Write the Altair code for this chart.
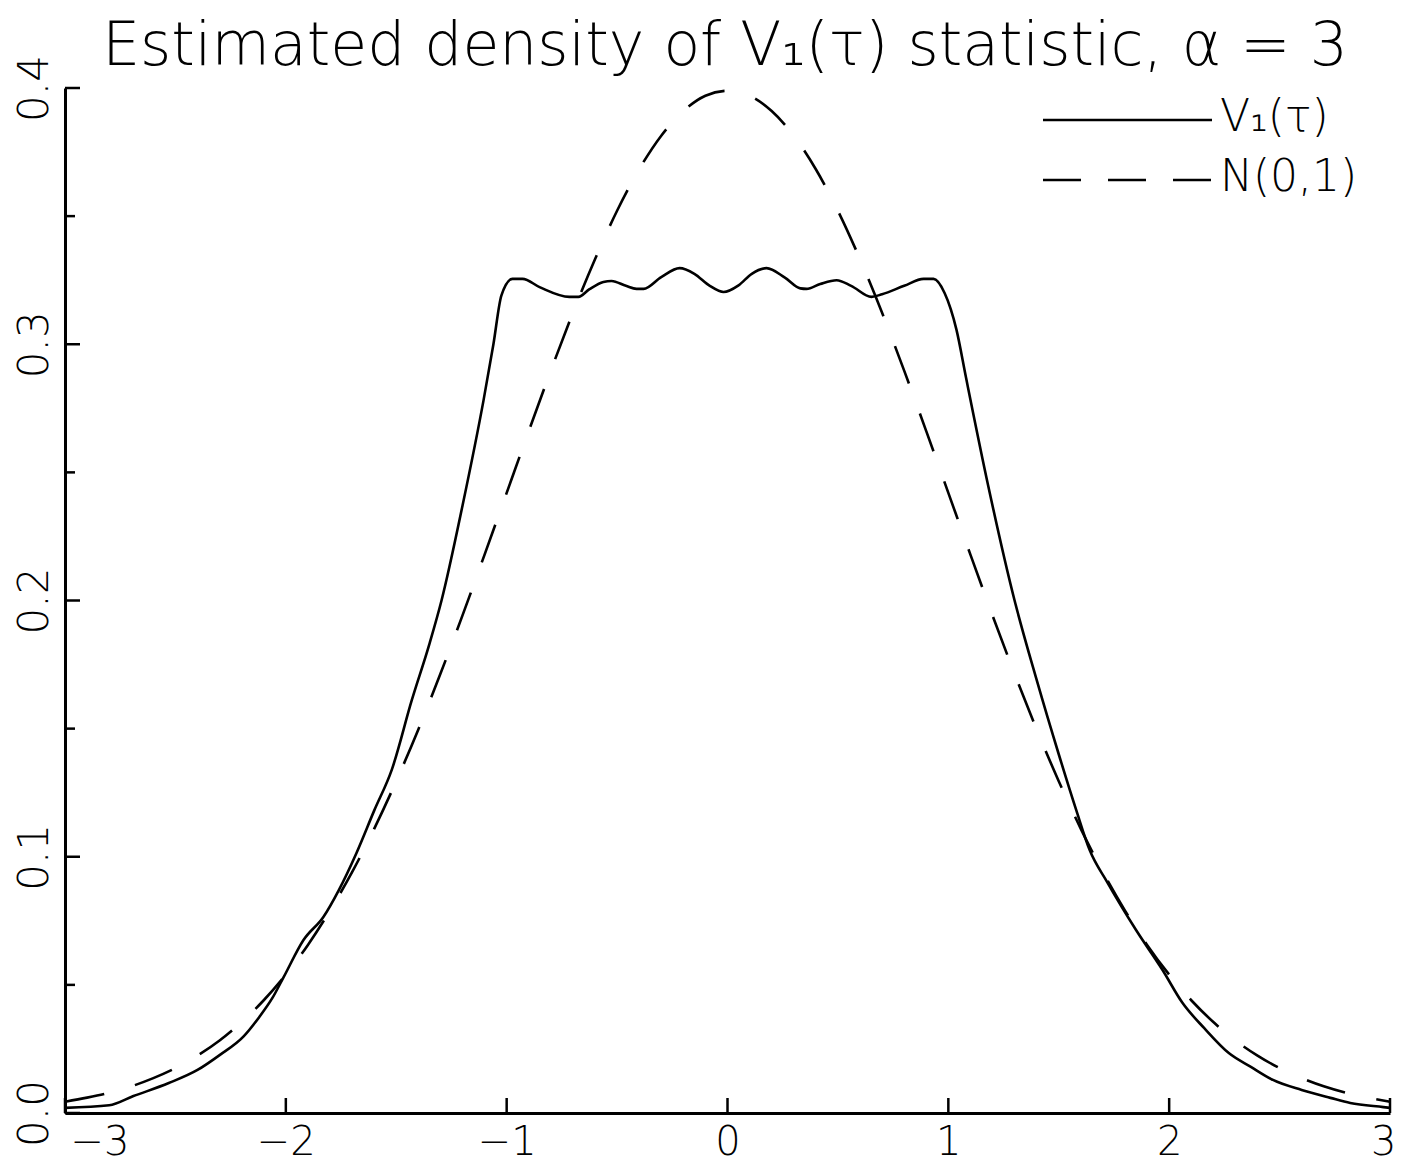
import altair as alt
import pandas as pd

# ---- data ----
solid_x = [-3.00, -2.80, -2.69, -2.53, -2.40, -2.30, -2.19, -2.12, -2.06, -2.01,
           -1.92, -1.83, -1.76, -1.68, -1.60, -1.52, -1.43, -1.35, -1.295, -1.20,
           -1.105, -1.06, -1.024, -0.974, -0.928, -0.851, -0.716, -0.675, -0.625, -0.562,
           -0.525, -0.46, -0.412, -0.38, -0.30, -0.217, -0.15, -0.08, -0.018, 0.05,
           0.11, 0.177, 0.26, 0.33, 0.358, 0.42, 0.494, 0.56, 0.652, 0.70,
           0.80, 0.888, 0.933, 0.983, 1.037, 1.08, 1.18, 1.30, 1.40, 1.50,
           1.58, 1.64, 1.72, 1.85, 1.97, 2.06, 2.16, 2.27, 2.37, 2.47,
           2.60, 2.73, 2.82, 2.97, 3.00]
solid_y = [0.0020, 0.0030, 0.0066, 0.0117, 0.0168, 0.0226, 0.0300, 0.0375, 0.0450, 0.0530,
           0.0675, 0.0765, 0.0870, 0.1015, 0.1180, 0.1340, 0.1610, 0.1830, 0.2000, 0.2370,
           0.2780, 0.3000, 0.3190, 0.3255, 0.3255, 0.3223, 0.3185, 0.3185, 0.3215, 0.3243,
           0.3247, 0.3228, 0.3216, 0.3216, 0.3262, 0.3297, 0.3275, 0.3228, 0.3204, 0.3230,
           0.3275, 0.3297, 0.3260, 0.3218, 0.3216, 0.3235, 0.3250, 0.3228, 0.3185, 0.3195,
           0.3228, 0.3255, 0.3255, 0.3200, 0.3056, 0.2870, 0.2450, 0.2000, 0.1690, 0.1400,
           0.1180, 0.1026, 0.0900, 0.0714, 0.0558, 0.0430, 0.0330, 0.0234, 0.0180, 0.0129,
           0.0090, 0.0059, 0.0039, 0.0023, 0.0020]

normal_x = [-3.0, -2.9, -2.8, -2.7, -2.6, -2.5, -2.4, -2.3, -2.2, -2.1,
            -2.0, -1.9, -1.8, -1.7, -1.6, -1.5, -1.4, -1.3, -1.2, -1.1,
            -1.0, -0.9, -0.8, -0.7, -0.6, -0.5, -0.4, -0.3, -0.2, -0.1,
            0.0, 0.1, 0.2, 0.3, 0.4, 0.5, 0.6, 0.7, 0.8, 0.9,
            1.0, 1.1, 1.2, 1.3, 1.4, 1.5, 1.6, 1.7, 1.8, 1.9,
            2.0, 2.1, 2.2, 2.3, 2.4, 2.5, 2.6, 2.7, 2.8, 2.9, 3.0]
normal_y = [0.0044, 0.0060, 0.0079, 0.0104, 0.0136, 0.0175, 0.0224, 0.0283, 0.0355, 0.0440,
            0.0540, 0.0656, 0.0790, 0.0940, 0.1109, 0.1295, 0.1497, 0.1714, 0.1942, 0.2179,
            0.2420, 0.2661, 0.2897, 0.3123, 0.3332, 0.3521, 0.3683, 0.3814, 0.3910, 0.3970,
            0.3989, 0.3970, 0.3910, 0.3814, 0.3683, 0.3521, 0.3332, 0.3123, 0.2897, 0.2661,
            0.2420, 0.2179, 0.1942, 0.1714, 0.1497, 0.1295, 0.1109, 0.0940, 0.0790, 0.0656,
            0.0540, 0.0440, 0.0355, 0.0283, 0.0224, 0.0175, 0.0136, 0.0104, 0.0079, 0.0060, 0.0044]

x_major = [-3, -2, -1, 0, 1, 2, 3]
y_major = [0.0, 0.1, 0.2, 0.3, 0.4]
y_minor = [0.05, 0.15, 0.25, 0.35]

title_text = "Estimated density of V\u2081(\u03c4) statistic, \u03b1 = 3"
legend_labels = ["V\u2081(\u03c4)", "N(0,1)"]

# ---- layout ----
W, H = 1325, 1025
FONT = "DejaVu Sans"

df_solid = pd.DataFrame({"x": solid_x, "y": solid_y})
df_norm = pd.DataFrame({"x": normal_x, "y": normal_y})

xscale = alt.Scale(domain=[-3, 3], nice=False, zero=False)
yscale = alt.Scale(domain=[0, 0.4], nice=False, zero=False)

x_axis = alt.Axis(values=x_major, format="d", ticks=False, grid=False,
                  domainWidth=3, domainColor="black", labelColor="black",
                  labelFont=FONT, labelFontSize=40, labelFontWeight=300, labelPadding=9,
                  labelFlush=False, labelOverlap=False, labelBound=False,
                  labelAlign={"condition": [{"test": "datum.value == -3", "value": "left"},
                                            {"test": "datum.value == 3", "value": "right"}],
                              "value": "center"},
                  labelOffset={"condition": [{"test": "datum.value == -3", "value": 5},
                                             {"test": "datum.value == 3", "value": 6}],
                               "value": 0},
                  title=None)
y_axis = alt.Axis(values=y_major, format=".1f", ticks=False, grid=False,
                  domainWidth=3, domainColor="black", labelColor="black",
                  labelFont=FONT, labelFontSize=42, labelFontWeight=300, labelPadding=18,
                  labelAngle=270, labelAlign="center", labelBaseline="alphabetic",
                  labelFlush=False, labelOverlap=False, title=None)

solid = alt.Chart(df_solid).mark_line(color="black", strokeWidth=2.6, interpolate="monotone").encode(
    x=alt.X("x:Q", scale=xscale, axis=x_axis),
    y=alt.Y("y:Q", scale=yscale, axis=y_axis),
    order="x:Q",
)

normal = alt.Chart(df_norm).mark_line(color="black", strokeWidth=2.6, strokeDash=[40, 32],
                                      interpolate="monotone").encode(
    x=alt.X("x:Q", scale=xscale, axis=x_axis),
    y=alt.Y("y:Q", scale=yscale, axis=y_axis),
    order="x:Q",
)

ytick_major = alt.Chart(pd.DataFrame({"y": y_major})).mark_rule(color="black", strokeWidth=2.5).encode(
    y=alt.Y("y:Q", scale=yscale, axis=y_axis),
    x=alt.value(0), x2=alt.value(15),
)
ytick_minor = alt.Chart(pd.DataFrame({"y": y_minor})).mark_rule(color="black", strokeWidth=2.5).encode(
    y=alt.Y("y:Q", scale=yscale, axis=y_axis),
    x=alt.value(0), x2=alt.value(10),
)
xtick_major = alt.Chart(pd.DataFrame({"x": x_major})).mark_rule(color="black", strokeWidth=2.5).encode(
    x=alt.X("x:Q", scale=xscale, axis=x_axis),
    y=alt.value(H), y2=alt.value(H - 15),
)

leg_solid = alt.Chart(pd.DataFrame({"k": [0]})).mark_rule(color="black", strokeWidth=2.6).encode(
    x=alt.value(978), x2=alt.value(1147), y=alt.value(32),
)
leg_dash = alt.Chart(pd.DataFrame({"k": [0]})).mark_rule(color="black", strokeWidth=2.6, strokeDash=[38, 27]).encode(
    x=alt.value(978), x2=alt.value(1148), y=alt.value(92),
)
leg_t1 = alt.Chart(pd.DataFrame({"t": [legend_labels[0]]})).mark_text(
    font=FONT, fontSize=44, fontWeight=300, align="left", baseline="middle", color="black").encode(
    x=alt.value(1155), y=alt.value(30), text="t:N")
leg_t2 = alt.Chart(pd.DataFrame({"t": [legend_labels[1]]})).mark_text(
    font=FONT, fontSize=44, fontWeight=300, align="left", baseline="middle", color="black").encode(
    x=alt.value(1155), y=alt.value(90), text="t:N")

title = alt.Chart(pd.DataFrame({"t": [title_text]})).mark_text(
    font=FONT, fontSize=60, fontWeight=200, align="center", baseline="alphabetic", color="black").encode(
    x=alt.value(660), y=alt.value(-23), text="t:N")

chart = alt.layer(
    normal, solid, ytick_major, ytick_minor, xtick_major,
    leg_solid, leg_dash, leg_t1, leg_t2, title,
).properties(
    width=W, height=H,
    background="white",
    autosize=alt.AutoSizeParams(type="none"),
    padding={"left": 57, "top": 80, "right": 10, "bottom": 51},
).configure_view(stroke="transparent", strokeWidth=0)

chart.save("out.html", embed_options={"renderer": "svg", "actions": False})
